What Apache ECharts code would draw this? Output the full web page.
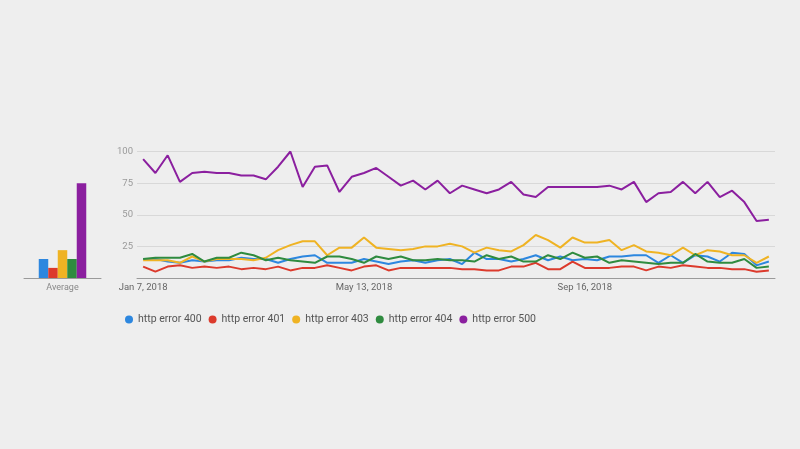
<!DOCTYPE html>
<html>
<head>
<meta charset="utf-8">
<script src="https://cdn.jsdelivr.net/npm/echarts@6/dist/echarts.min.js"></script>
<style>
html,body{margin:0;padding:0;background:#eeeeee;}
#c{width:800px;height:449px;}
</style>
</head>
<body>
<div id="c"></div>
<script>
const weeks = ['Jan 7, 2018','Jan 14, 2018','Jan 21, 2018','Jan 28, 2018','Feb 4, 2018','Feb 11, 2018','Feb 18, 2018','Feb 25, 2018',
'Mar 4, 2018','Mar 11, 2018','Mar 18, 2018','Mar 25, 2018','Apr 1, 2018','Apr 8, 2018','Apr 15, 2018','Apr 22, 2018','Apr 29, 2018',
'May 6, 2018','May 13, 2018','May 20, 2018','May 27, 2018','Jun 3, 2018','Jun 10, 2018','Jun 17, 2018','Jun 24, 2018',
'Jul 1, 2018','Jul 8, 2018','Jul 15, 2018','Jul 22, 2018','Jul 29, 2018','Aug 5, 2018','Aug 12, 2018','Aug 19, 2018','Aug 26, 2018',
'Sep 2, 2018','Sep 9, 2018','Sep 16, 2018','Sep 23, 2018','Sep 30, 2018','Oct 7, 2018','Oct 14, 2018','Oct 21, 2018','Oct 28, 2018',
'Nov 4, 2018','Nov 11, 2018','Nov 18, 2018','Nov 25, 2018','Dec 2, 2018','Dec 9, 2018','Dec 16, 2018','Dec 23, 2018','Dec 30, 2018'];

const seriesNames = ['http error 400','http error 401','http error 403','http error 404','http error 500'];

const err400 = [15,15,13,12,14,13,14,14,16,15,15,12,15,17,18,12, 12,12,15,13,11,13,14,12,14,15,11,20,15,15,13,15,18,14, 17,14,15,14,17,17,18,18,12,18,12,18,17,13,20,19,10,13];
const err401 = [9,5,9,10,8,9,8,9,7,8,7,9,6,8,8,10, 8,6,9,10,6,8,8,8,8,8,7,7,6,6,9,9,12,7, 7,13,8,8,8,9,9,6,9,8,10,9,8,8,7,7,5,6];
const err403 = [14,14,14,12,17,13,15,15,15,14,16,22,26,29,29,18, 24,24,32,24,23,22,23,25,25,27,25,20,24,22,21,26,34,30, 24,32,28,28,30,22,26,21,20,18,24,18,22,21,18,18,12,17];
const err404 = [15,16,16,16,19,13,16,16,20,18,14,16,14,13,12,17, 17,15,12,17,15,17,14,14,15,14,14,13,18,15,17,13,13,18, 15,20,16,17,12,14,13,12,11,12,12,19,13,12,12,15,8,9];
const err500 = [94,83,97,76,83,84,83,83,81,81,78,88,100,72,88,89,68, 80,83,87,80,73,77,70,77,67,73,70,67,70,76,66,64,72,72, 72,72,72,73,70,76,60,67,68,76,67,76,64,69,60,45,46];

const averages = [15,8,22,15,75];
const yTicks = [0,25,50,75,100];
const averageLabel = 'Average';

const colors = ['#2d87df','#dc3a2c','#efb323','#2f8b3f','#8b1f9f'];
const lineData = [err400, err401, err403, err404, err500];

const chart = echarts.init(document.getElementById('c'), null, {renderer:'canvas'});

const series = [];
seriesNames.forEach((n,i)=>{
  series.push({
    name:n, type:'bar', xAxisIndex:1, yAxisIndex:1,
    data:[averages[i]], barWidth:9.5, barGap:'0%',
    itemStyle:{color:colors[i]}, silent:true
  });
});
seriesNames.forEach((n,i)=>{
  series.push({
    name:n, type:'line', xAxisIndex:0, yAxisIndex:0,
    data:lineData[i], symbol:'none', smooth:false,
    lineStyle:{width:2, color:colors[i]}, itemStyle:{color:colors[i]},
    z: i===4 ? 3 : 2
  });
});

chart.setOption({
  animation:false,
  backgroundColor:'#eeeeee',
  color:colors,
  textStyle:{fontFamily:'Roboto, Arial, sans-serif'},
  legend:{
    data:seriesNames, left:120, top:309, icon:'circle',
    itemWidth:8, itemHeight:8, itemGap:7,
    textStyle:{color:'#555555', fontSize:10.5, fontFamily:'Roboto'}
  },
  grid:[
    {left:137, right:25, top:151.5, bottom:171, containLabel:false},
    {left:24, width:77, top:151.5, bottom:171, containLabel:false}
  ],
  xAxis:[
    {type:'category', gridIndex:0, data:weeks, boundaryGap:true,
     axisLine:{show:true, lineStyle:{color:'#9a9a9a', width:1}},
     axisTick:{show:false},
     axisLabel:{interval:(idx)=>idx%18===0, color:'#666666', fontSize:9.5, margin:5}},
    {type:'category', gridIndex:1, data:[averageLabel],
     axisLine:{show:true, lineStyle:{color:'#9a9a9a', width:1}},
     axisTick:{show:false},
     axisLabel:{color:'#888888', fontSize:9, margin:5}}
  ],
  yAxis:[
    {type:'value', gridIndex:0, min:yTicks[0], max:yTicks[yTicks.length-1], interval:25,
     axisLine:{show:false}, axisTick:{show:false},
     axisLabel:{color:'#9a9a9a', fontSize:9.5, margin:4, formatter:(v)=> v===0 ? '' : String(v)},
     splitLine:{show:true, lineStyle:{color:'#d8d8d8', width:1}}},
    {type:'value', gridIndex:1, min:0, max:100, show:false, splitLine:{show:false}}
  ],
  series:series
});
</script>
</body>
</html>
